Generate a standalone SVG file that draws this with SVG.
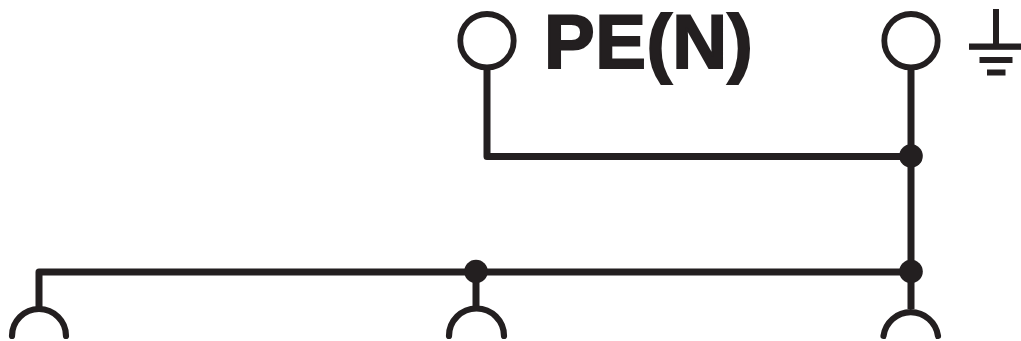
<svg xmlns="http://www.w3.org/2000/svg" width="1021" height="341" viewBox="0 0 1021 341">
<style>
.w{fill:none;stroke:#231f20;stroke-width:7;stroke-linejoin:round;stroke-linecap:butt}
.t{fill:#fff;stroke:#231f20;stroke-width:5.8}
.a{fill:none;stroke:#231f20;stroke-width:6.200;stroke-linecap:round}
.d{fill:#231f20}
.g{fill:#231f20}
.l{font-family:"Liberation Sans",Arial,sans-serif;font-weight:700;font-size:76px;letter-spacing:.5px;fill:#231f20;stroke:#231f20;stroke-width:2}
</style>
<rect width="1021" height="341" fill="#fff"/>
<g id="connectors">
<path class="w" d="M487 68V156.500H911"/>
<path class="w" d="M911 68V309"/>
<path class="w" d="M911 272H39V309"/>
<path class="w" d="M476 272V309"/>
</g>
<g id="terminal-pe"><circle class="t" cx="487" cy="40.700" r="26.700"/></g>
<g id="label-pe"><text class="l" x="544" y="68">PE(N)</text></g>
<g id="terminal-ground"><circle class="t" cx="911" cy="40.700" r="26.700"/></g>
<g id="ground-symbol">
<rect class="g" x="993" y="9" width="6" height="36"/>
<rect class="g" x="969" y="43.500" width="52" height="6.300"/>
<rect class="g" x="979.500" y="57" width="33" height="6"/>
<rect class="g" x="987" y="69.500" width="18.500" height="6"/>
</g>
<g id="junction-top"><circle class="d" cx="911" cy="156" r="11.800"/></g>
<g id="junction-right"><circle class="d" cx="911" cy="271.500" r="11.800"/></g>
<g id="junction-mid"><circle class="d" cx="476" cy="271.500" r="11.800"/></g>
<g id="socket-left"><path class="a" d="M12 336A27 27 0 0 1 66 336"/></g>
<g id="socket-mid"><path class="a" d="M449 336A27.500 27.500 0 0 1 504 336"/></g>
<g id="socket-right"><path class="a" d="M883.500 336A27.500 27.500 0 0 1 938 336"/></g>
</svg>
